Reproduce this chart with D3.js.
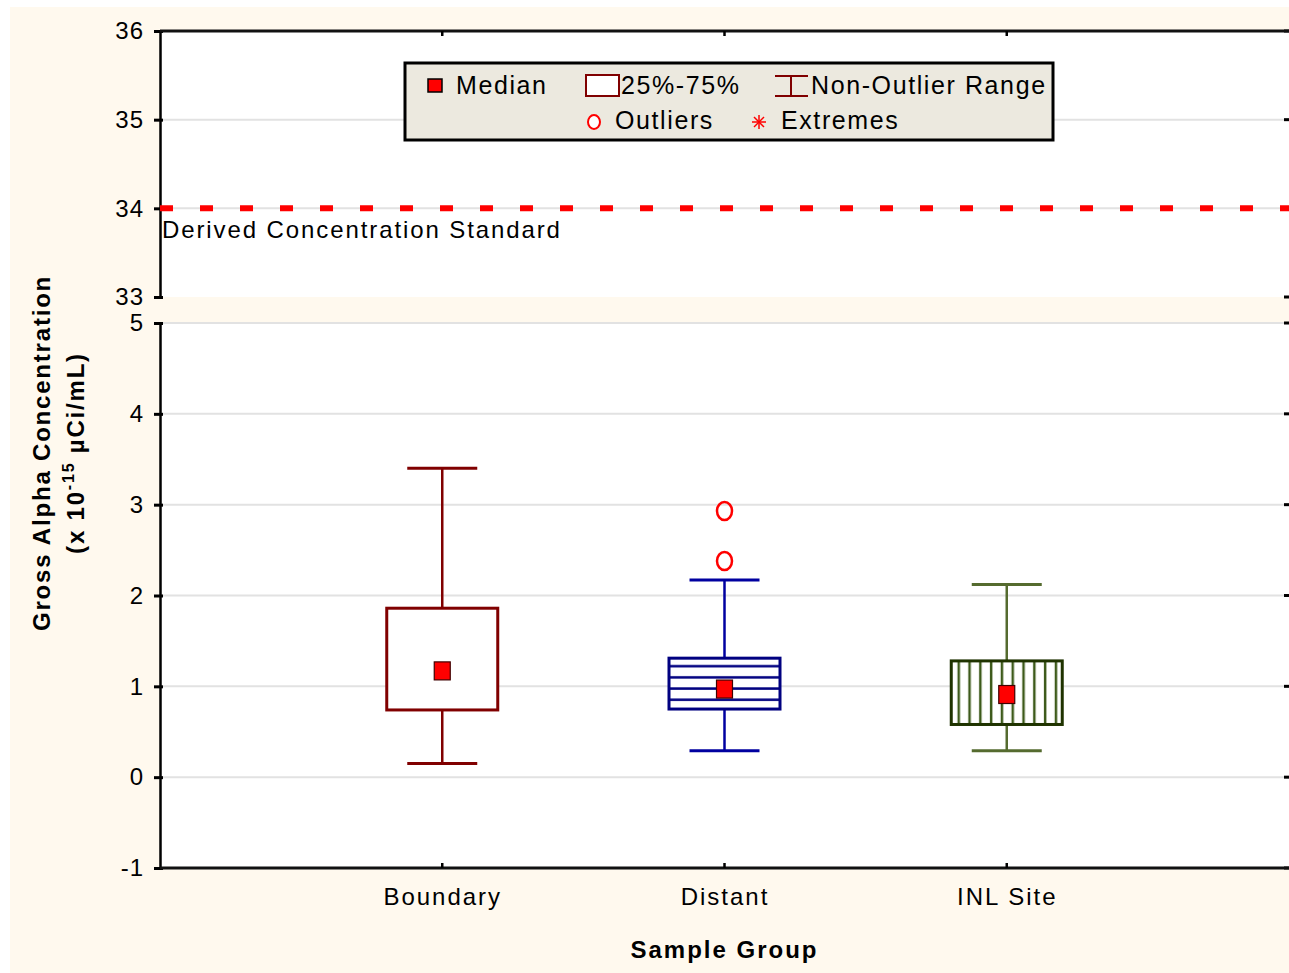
<!DOCTYPE html>
<html><head><meta charset="utf-8">
<script src="https://cdn.jsdelivr.net/npm/d3@7/dist/d3.min.js"></script>
<style>body{margin:0;background:#fff}svg{display:block;font-family:"Liberation Sans",Arial,sans-serif}</style>
</head><body><svg id="c" width="1289" height="973"></svg>
<script>
const categories = ["Boundary","Distant","INL Site"];
const q1 = [0.74, 0.75, 0.58];
const q3 = [1.86, 1.31, 1.28];
const medians = [1.17, 0.97, 0.91];
const whiskLow = [0.15, 0.29, 0.29];
const whiskHigh = [3.40, 2.17, 2.12];
const outliers = [[], [2.38, 2.93], []];
const upperTicks = [33, 34, 35, 36];
const lowerTicks = [-1, 0, 1, 2, 3, 4, 5];
const dcsValue = 34;
const dcsLabel = "Derived Concentration Standard";

const boxStroke = ["#800000", "#000080", "#1f3300"];
const whiskStroke = ["#800000", "#0000a0", "#556b2f"];

const svg = d3.select("#c");
const L = 160, R = 1289;
const cream = "#fff9ee";
const FF = "Liberation Sans, Arial, sans-serif";
svg.append("rect").attr("x",10).attr("y",7).attr("width",1279).attr("height",966).attr("fill",cream);

const x = d3.scalePoint().domain(categories).range([L, R]).padding(1);
const yU = d3.scaleLinear().domain([33,36]).range([297,31]);
const yL = d3.scaleLinear().domain([-1,5]).range([868,323]);

// panels
svg.append("rect").attr("x",L).attr("y",yU(36)).attr("width",R-L).attr("height",yU(33)-yU(36)).attr("fill","#fff");
svg.append("rect").attr("x",L).attr("y",yL(5)).attr("width",R-L).attr("height",yL(-1)-yL(5)).attr("fill","#fff");

// gridlines
svg.append("g").selectAll("line").data(upperTicks.filter(d=>d>33&&d<36)).join("line")
  .attr("x1",L).attr("x2",R).attr("y1",d=>yU(d)).attr("y2",d=>yU(d)).attr("stroke","#e2e2e2").attr("stroke-width",2);
svg.append("g").selectAll("line").data(lowerTicks.filter(d=>d>-1)).join("line")
  .attr("x1",L).attr("x2",R).attr("y1",d=>yL(d)).attr("y2",d=>yL(d)).attr("stroke","#e2e2e2").attr("stroke-width",2);

// axes: left
function leftAxis(scale, ticks){
  const g = svg.append("g").attr("transform",`translate(${L},0)`)
    .call(d3.axisLeft(scale).tickValues(ticks).tickSize(6).tickPadding(10).tickFormat(d=>String(d)));
  g.select(".domain").attr("stroke","#000").attr("stroke-width",2.5);
  g.selectAll(".tick line").attr("stroke","#000").attr("stroke-width",3).attr("x2",-6).attr("x1",3);
  g.selectAll(".tick text").attr("font-size",24).attr("letter-spacing",1).attr("fill","#000").attr("font-family",FF);
  return g;
}
leftAxis(yU, upperTicks);
leftAxis(yL, lowerTicks);
// right small ticks
svg.append("g").selectAll("line").data(upperTicks).join("line")
  .attr("x1",R-5).attr("x2",R).attr("y1",d=>yU(d)).attr("y2",d=>yU(d)).attr("stroke","#000").attr("stroke-width",3);
svg.append("g").selectAll("line").data(lowerTicks).join("line")
  .attr("x1",R-5).attr("x2",R).attr("y1",d=>yL(d)).attr("y2",d=>yL(d)).attr("stroke","#000").attr("stroke-width",3);

// top and bottom borders
svg.append("line").attr("x1",L).attr("x2",R).attr("y1",yU(36)).attr("y2",yU(36)).attr("stroke","#111").attr("stroke-width",3);
const xg = svg.append("g").attr("transform",`translate(0,${yL(-1)})`)
  .call(d3.axisBottom(x).tickSize(0).tickPadding(20));
xg.select(".domain").remove();
xg.selectAll(".tick text").attr("font-size",24).attr("letter-spacing",2).attr("fill","#000").attr("font-family",FF);
svg.append("line").attr("x1",L).attr("x2",R).attr("y1",yL(-1)).attr("y2",yL(-1)).attr("stroke","#111").attr("stroke-width",3);
// category ticks on top and bottom (inward)
svg.append("g").selectAll("line").data(categories).join("line")
  .attr("x1",d=>x(d)).attr("x2",d=>x(d)).attr("y1",yU(36)).attr("y2",yU(36)+5).attr("stroke","#000").attr("stroke-width",2.5);
svg.append("g").selectAll("line").data(categories).join("line")
  .attr("x1",d=>x(d)).attr("x2",d=>x(d)).attr("y1",yL(-1)).attr("y2",yL(-1)-5).attr("stroke","#000").attr("stroke-width",2.5);

// DCS line
svg.append("line").attr("x1",L).attr("x2",R).attr("y1",yU(dcsValue)).attr("y2",yU(dcsValue))
  .attr("stroke","#ff0000").attr("stroke-width",6).attr("stroke-dasharray","13 27");
svg.append("text").attr("x",L+2).attr("y",yU(dcsValue)+30).attr("font-size",24).attr("letter-spacing",1.9).attr("fill","#000").text(dcsLabel);

// hatch patterns
const defs = svg.append("defs");
const ph = defs.append("pattern").attr("id","hatchH").attr("patternUnits","userSpaceOnUse")
  .attr("x",0).attr("y",yL(q3[1])).attr("width",20).attr("height",11.2);
ph.append("rect").attr("width",20).attr("height",11.2).attr("fill","#fff");
ph.append("line").attr("x1",0).attr("x2",20).attr("y1",8).attr("y2",8).attr("stroke","#000080").attr("stroke-width",2.5);
const pv = defs.append("pattern").attr("id","hatchV").attr("patternUnits","userSpaceOnUse")
  .attr("x",x(categories[2])-56).attr("y",0).attr("width",10.8).attr("height",20);
pv.append("rect").attr("width",10.8).attr("height",20).attr("fill","#fff");
pv.append("line").attr("x1",8).attr("x2",8).attr("y1",0).attr("y2",20).attr("stroke","#3d5a1a").attr("stroke-width",2.5);
const fills = ["#fff","url(#hatchH)","url(#hatchV)"];

const bw = 111, cw = 70;
const idx = d3.range(categories.length);
const g = svg.append("g");
// whiskers
g.selectAll("line.wh").data(idx).join("line").attr("class","wh")
  .attr("x1",i=>x(categories[i])).attr("x2",i=>x(categories[i]))
  .attr("y1",i=>yL(whiskLow[i])).attr("y2",i=>yL(whiskHigh[i]))
  .attr("stroke",i=>whiskStroke[i]).attr("stroke-width",2.5);
g.selectAll("line.capH").data(idx).join("line").attr("class","capH")
  .attr("x1",i=>x(categories[i])-cw/2).attr("x2",i=>x(categories[i])+cw/2)
  .attr("y1",i=>yL(whiskHigh[i])).attr("y2",i=>yL(whiskHigh[i]))
  .attr("stroke",i=>whiskStroke[i]).attr("stroke-width",3);
g.selectAll("line.capL").data(idx).join("line").attr("class","capL")
  .attr("x1",i=>x(categories[i])-cw/2).attr("x2",i=>x(categories[i])+cw/2)
  .attr("y1",i=>yL(whiskLow[i])).attr("y2",i=>yL(whiskLow[i]))
  .attr("stroke",i=>whiskStroke[i]).attr("stroke-width",3);
// boxes
g.selectAll("rect.box").data(idx).join("rect").attr("class","box")
  .attr("x",i=>x(categories[i])-bw/2).attr("width",bw)
  .attr("y",i=>yL(q3[i])).attr("height",i=>yL(q1[i])-yL(q3[i]))
  .attr("fill",i=>fills[i]).attr("stroke",i=>boxStroke[i]).attr("stroke-width",3);
// medians
g.selectAll("rect.med").data(idx).join("rect").attr("class","med")
  .attr("x",i=>x(categories[i])-8).attr("y",i=>yL(medians[i])-9).attr("width",16).attr("height",18)
  .attr("fill","#ff0000").attr("stroke","#400000").attr("stroke-width",1.2);
// outliers
const outs = idx.flatMap(i=>outliers[i].map(v=>({c:categories[i],v})));
g.selectAll("ellipse.out").data(outs).join("ellipse").attr("class","out")
  .attr("cx",d=>x(d.c)).attr("cy",d=>yL(d.v)).attr("rx",7.5).attr("ry",9)
  .attr("fill","none").attr("stroke","#ff0000").attr("stroke-width",2.5);

// legend
const lg = svg.append("g");
lg.append("rect").attr("x",405).attr("y",63).attr("width",648).attr("height",77).attr("fill","#ece9df").attr("stroke","#000").attr("stroke-width",3);
const fs = 25, ls = 1.6;
lg.append("rect").attr("x",428).attr("y",79).attr("width",14).attr("height",13).attr("fill","#ff0000").attr("stroke","#000").attr("stroke-width",1.5);
lg.append("text").attr("x",456).attr("y",94).attr("font-size",fs).attr("letter-spacing",ls).text("Median");
lg.append("rect").attr("x",586).attr("y",75).attr("width",33).attr("height",21).attr("fill","#fff").attr("stroke","#800000").attr("stroke-width",2);
lg.append("text").attr("x",621).attr("y",94).attr("font-size",fs).attr("letter-spacing",ls).text("25%-75%");
lg.append("line").attr("x1",775).attr("x2",808).attr("y1",76).attr("y2",76).attr("stroke","#800000").attr("stroke-width",2);
lg.append("line").attr("x1",775).attr("x2",808).attr("y1",96).attr("y2",96).attr("stroke","#800000").attr("stroke-width",2);
lg.append("line").attr("x1",791).attr("x2",791).attr("y1",76).attr("y2",96).attr("stroke","#800000").attr("stroke-width",2);
lg.append("text").attr("x",811).attr("y",94).attr("font-size",fs).attr("letter-spacing",ls).text("Non-Outlier Range");
lg.append("ellipse").attr("cx",594).attr("cy",122).attr("rx",6).attr("ry",7).attr("fill","#fff").attr("stroke","#ff0000").attr("stroke-width",2);
lg.append("text").attr("x",615).attr("y",129).attr("font-size",fs).attr("letter-spacing",ls).text("Outliers");
const ax = 759, ay = 122;
[[-7,0,7,0],[0,-7,0,7],[-5,-5,5,5],[-5,5,5,-5]].forEach(s=>
  lg.append("line").attr("x1",ax+s[0]).attr("y1",ay+s[1]).attr("x2",ax+s[2]).attr("y2",ay+s[3]).attr("stroke","#ff0000").attr("stroke-width",1.5));
lg.append("text").attr("x",781).attr("y",129).attr("font-size",fs).attr("letter-spacing",ls).text("Extremes");

// axis titles
svg.append("text").attr("x",x(categories[1])).attr("y",958).attr("text-anchor","middle")
  .attr("font-size",24).attr("letter-spacing",2).attr("font-weight","bold").text("Sample Group");
const yt = svg.append("g").attr("transform","translate(50,453) rotate(-90)");
yt.append("text").attr("text-anchor","middle").attr("font-size",24).attr("letter-spacing",1.8).attr("font-weight","bold").text("Gross Alpha Concentration");
const t2 = yt.append("text").attr("y",34).attr("text-anchor","middle").attr("font-size",24).attr("letter-spacing",1.8).attr("font-weight","bold");
t2.append("tspan").text("(x 10");
t2.append("tspan").attr("font-size",16).attr("dy",-10).text("-15");
t2.append("tspan").attr("font-size",24).attr("dy",10).text(" \u00b5Ci/mL)");
</script></body></html>
